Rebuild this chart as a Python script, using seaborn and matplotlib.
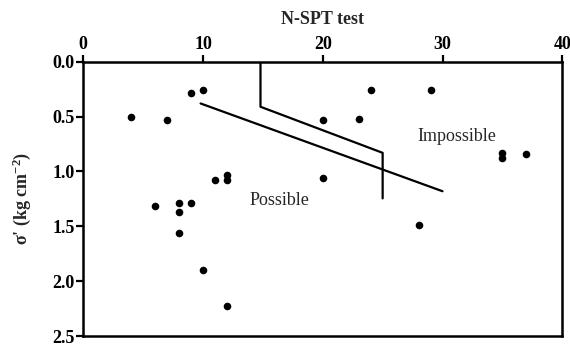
import matplotlib
matplotlib.use("Agg")
import matplotlib.pyplot as plt
import seaborn as sns
import pandas as pd

# N-SPT blow counts and effective vertical stress of the samples
n_spt = [4, 7, 9, 10, 24, 29, 20, 23, 6, 8, 8, 8, 9, 10, 11, 12, 12, 12, 20, 28, 35, 35, 37]
sigma = [0.50, 0.535, 0.285, 0.26, 0.255, 0.26, 0.53, 0.52, 1.31, 1.29, 1.37, 1.565, 1.29, 1.895, 1.08, 1.03, 1.075, 2.23, 1.055, 1.49, 0.83, 0.88, 0.84]

# Liquefaction boundary lines
bound1_x = [14.8, 14.8, 25.0, 25.0]
bound1_y = [0.0, 0.41, 0.83, 1.245]
bound2_x = [9.8, 30.0]
bound2_y = [0.38, 1.18]

x_ticks = [0, 10, 20, 30, 40]
y_ticks = [0.0, 0.5, 1.0, 1.5, 2.0, 2.5]

sns.set_theme(style="white")
plt.rcParams["font.family"] = ["Liberation Serif", "DejaVu Serif"]
plt.rcParams["mathtext.fontset"] = "custom"
plt.rcParams["mathtext.rm"] = "Liberation Serif:bold"
plt.rcParams["mathtext.default"] = "rm"

fig = plt.figure(figsize=(5.70, 3.49), dpi=100)
ax = fig.add_axes([0.146, 0.037, 0.8405, 0.786])

pts = pd.DataFrame({"N": n_spt, "s": sigma})
sns.scatterplot(data=pts, x="N", y="s", ax=ax, color="black", s=30,
                edgecolor="black", linewidth=0, zorder=3)

for bx, by in ((bound1_x, bound1_y), (bound2_x, bound2_y)):
    line = pd.DataFrame({"x": bx, "y": by})
    sns.lineplot(data=line, x="x", y="y", ax=ax, sort=False, estimator=None,
                 color="black", linewidth=1.6)

ax.set_xlim(0, 40)
ax.set_ylim(2.5, 0.0)
ax.set_xticks(x_ticks)
ax.set_yticks(y_ticks)
ax.set_xticklabels([str(v) for v in x_ticks], fontsize=13, fontweight="bold")
ax.set_yticklabels([f"{v:.1f}" for v in y_ticks], fontsize=13, fontweight="bold")
ax.xaxis.tick_top()
ax.xaxis.set_label_position("top")
ax.tick_params(axis="both", direction="out", length=5, width=1.6, color="black",
               pad=1, labelcolor="black")
ax.tick_params(axis="x", top=True, bottom=False)
ax.tick_params(axis="y", left=True, right=False)

ax.set_xlabel("N-SPT test", fontsize=13, fontweight="bold", labelpad=9)
ax.set_ylabel("σ' (kg cm$^{-2}$)", fontsize=13, fontweight="bold", labelpad=14)

for sp in ax.spines.values():
    sp.set_visible(True)
    sp.set_color("black")
    sp.set_linewidth(1.8)

ax.text(16.4, 1.26, "Possible", fontsize=13, ha="center", va="center")
ax.text(31.2, 0.68, "Impossible", fontsize=13, ha="center", va="center")

ax.grid(False)
fig.savefig("out.png", dpi=100)
